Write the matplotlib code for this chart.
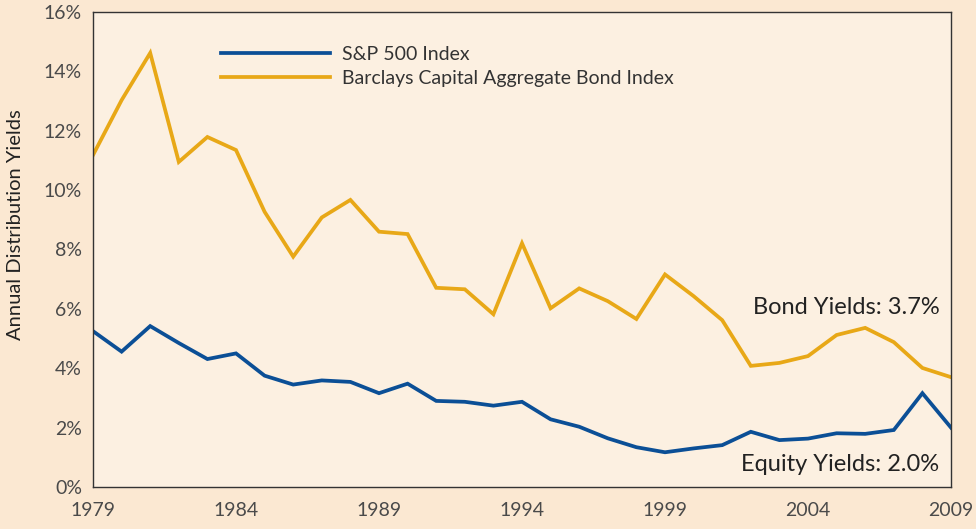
import matplotlib
matplotlib.use("Agg")
import matplotlib.pyplot as plt
from matplotlib.ticker import FuncFormatter, MultipleLocator

years = list(range(1979, 2010))
sp500 = [5.25, 4.56, 5.42, 4.85, 4.31, 4.50, 3.75, 3.45, 3.59, 3.54,
         3.16, 3.48, 2.90, 2.87, 2.74, 2.87, 2.28, 2.03, 1.64, 1.34,
         1.17, 1.30, 1.41, 1.86, 1.58, 1.63, 1.81, 1.79, 1.92, 3.16, 2.0]
bonds = [11.18, 13.03, 14.62, 10.95, 11.79, 11.35, 9.27, 7.76, 9.08, 9.67,
         8.60, 8.52, 6.71, 6.66, 5.82, 8.21, 6.02, 6.69, 6.26, 5.66,
         7.16, 6.43, 5.62, 4.08, 4.18, 4.41, 5.12, 5.36, 4.88, 4.01, 3.7]
series_labels = ["S&P 500 Index", "Barclays Capital Aggregate Bond Index"]
xtick_years = [1979, 1984, 1989, 1994, 1999, 2004, 2009]
ylabel = "Annual Distribution Yields"
bond_note = "Bond Yields: 3.7%"
equity_note = "Equity Yields: 2.0%"

plt.rcParams['font.family'] = ['Lato', 'DejaVu Sans']

fig = plt.figure(figsize=(9.76, 5.29), dpi=100)
fig.patch.set_facecolor('#fbe8d2')
ax = fig.add_axes([93/976, 1-487/529, (951-93)/976, (487-12)/529])
ax.set_facecolor('#fcf0e1')

blue = '#0b4f96'
gold = '#e8a817'
ax.plot(years, sp500, color=blue, lw=2.7, label=series_labels[0], solid_joinstyle='miter')
ax.plot(years, bonds, color=gold, lw=2.7, label=series_labels[1], solid_joinstyle='miter')

ax.set_xlim(1979, 2009)
ax.set_ylim(0, 16)
ax.set_xticks(xtick_years)
ax.yaxis.set_major_locator(MultipleLocator(2))
ax.yaxis.set_major_formatter(FuncFormatter(lambda v, p: f"{v:.0f}%"))
ax.tick_params(axis='both', length=0, labelsize=14, labelcolor='#4a4a4a')
ax.tick_params(axis='x', pad=11)
ax.tick_params(axis='y', pad=8)
for s in ax.spines.values():
    s.set_color('#333333')
    s.set_linewidth(1.0)

ax.set_ylabel(ylabel, fontsize=14.5, color='#222222')
ax.yaxis.set_label_coords(-0.081, 0.552)

leg = ax.legend(loc='upper left', bbox_to_anchor=(0.131, 0.962), frameon=False,
                handlelength=5.6, handletextpad=0.62, labelspacing=0.36,
                fontsize=14, labelcolor='#333333', borderpad=0.3)

ax.text(2008.6, 6.05, bond_note, ha='right', va='center', fontsize=17, color='#222222')
ax.text(2008.6, 0.75, equity_note, ha='right', va='center', fontsize=17, color='#222222')

fig.savefig('out.png', dpi=100, facecolor=fig.get_facecolor())
